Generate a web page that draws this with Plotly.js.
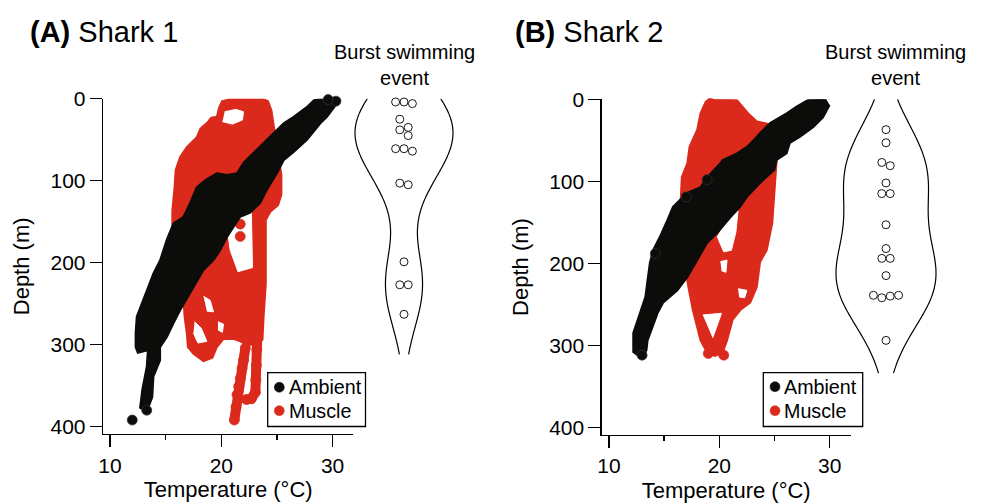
<!DOCTYPE html>
<html>
<head>
<meta charset="utf-8">
<script src="https://cdn.plot.ly/plotly-3.0.1.min.js"></script>
<style>html,body{margin:0;padding:0;background:#fff}#chart{width:981px;height:504px}</style>
</head>
<body>
<div id="chart"></div>
<script>
// ---------- Shark 1 (A) ----------
// Ambient temperature cloud outline (temperature °C, depth m)
const shark1AmbientT = [30.5,29.5,28.9,27.7,26.5,25.6,25.0,24.1,23.5,22.6,21.7,21.1,20.5,19.9,19.3,18.4,17.2,16.3,15.7,15.1,14.5,14.5,13.9,13.8,13.3,12.7,12.9,13.3,13.4,12.5,12.3,12.3,12.4,12.9,13.3,13.9,14.5,15.0,15.1,15.7,16.6,17.2,17.8,18.6,19.6,20.5,21.4,22.0,22.9,23.8,24.7,25.6,26.5,27.7,28.3,28.9,29.8,30.7];
const shark1AmbientD = [4,22,30,50,65,75,91,111,127,139,144,157,169,185,197,209,237,258,274,291,303,319,339,364,382,377,355,327,307,310,303,286,266,249,233,213,197,178,172,152,144,127,108,99,91,93,91,78,66,54,42,30,22,10,2,0,0,1];
const shark1AmbientDotT = [12.0,13.3,30.3,29.6];
const shark1AmbientDotD = [392,380,3,1];
// Muscle temperature cloud outline
const shark1MuscleT = [20.6,22.6,23.7,24.2,24.5,24.7,24.9,25.2,25.4,25.4,25.1,24.4,24.0,24.0,24.0,23.8,23.7,23.1,22.3,21.7,21.1,20.2,19.6,19.2,18.4,17.5,17.0,16.9,16.7,16.6,16.0,15.6,15.6,15.8,15.9,16.3,16.9,17.8,18.1,18.6,19.1,19.6,19.8,20.1];
const shark1MuscleD = [0,0,0,3,14,32,50,75,93,117,130,138,148,185,225,266,294,300,300,296,293,293,303,316,320,311,303,286,266,245,209,172,136,108,87,71,59,47,37,31,24,22,11,2];
// Gaps inside the muscle cloud
const shark1GapT = [20.3,21.3,22.0,21.9,21.0,20.1,null, 20.7,22.7,22.8,21.5,20.8,20.5,null, 17.6,18.2,18.7,17.9,17.5,null, 18.4,19.0,19.3,18.7,null, 19.7,20.2,20.1,19.7];
const shark1GapD = [16,13,16,26,31,28,null, 139,137,206,211,185,154,null, 272,280,296,298,286,null, 241,246,260,259,null, 272,275,285,282];
// Deep muscle excursions (two descents below the main cloud)
const shark1TailT = [23.24,23.19,23.15,23.10,23.06,22.70,22.25,null,22.16,22.0,21.86,21.71,21.56,21.41,21.32,21.17];
const shark1TailD = [288,306,325,343,358,366,367,null,304,319,329,341,351,361,376,392];
const shark1MuscleDotT = [21.7,21.7,19.3,18.6];
const shark1MuscleDotD = [153,168,28,38];
// Burst swimming events (depth m)
const shark1Burst = [4,4,6,25,35,38,45,61,61,64,103,105,199,227,227,263];

// ---------- Shark 2 (B) ----------
const shark2AmbientT = [30.0,29.4,28.5,27.3,26.4,26.1,25.2,25.0,24.0,23.1,22.5,21.9,21.0,19.8,18.9,18.0,17.1,16.2,14.9,14.4,13.9,13.5,13.4,13.0,12.2,12.2,12.8,13.3,13.5,13.7,14.0,14.6,15.3,15.8,16.7,17.1,18.3,18.9,20.1,20.3,21.6,22.5,23.1,23.7,24.6,25.5,26.1,27.0,28.0,28.9,29.7];
const shark2AmbientD = [7,22,34,46,53,66,74,86,98,111,119,131,144,163,175,196,217,233,248,261,278,294,306,316,308,285,261,241,220,200,184,168,147,131,119,114,107,95,78,74,66,58,50,41,29,22,17,9,1,0,0];
const shark2AmbientDotT = [18.9,17.0,14.2,13.0];
const shark2AmbientDotD = [98,119,188,312];
const shark2MuscleT = [19.2,21.6,22.6,23.4,24.4,25.1,25.2,25.0,24.8,24.3,23.7,23.4,22.8,21.9,21.2,20.7,20.3,19.6,18.9,18.3,17.6,17.2,16.8,16.5,16.5,16.6,17.1,17.3,18.0,18.3,18.8];
const shark2MuscleD = [0,1,17,27,30,50,74,111,151,184,198,229,248,257,269,294,309,313,309,294,257,229,196,159,123,95,78,58,37,17,2];
const shark2GapT = [21.0,21.7,21.5,21.1,20.4,19.8,null, 18.5,20.2,19.4,null, 21.7,22.5,22.3,21.8,null, 20.1,20.7,20.6,20.2];
const shark2GapD = [140,136,162,184,186,167,null, 263,261,291,null, 231,233,242,241,null, 198,196,211,209];
const shark2MuscleDotT = [19.2,20.4,19.0];
const shark2MuscleDotD = [5,312,310];
const shark2Burst = [37,53,77,81,102,115,115,153,182,194,194,215,239,242,240,239,294];

// Legend labels
const legendLabels = ['Ambient', 'Muscle'];

// ---------- styling ----------
const FONT = 'Liberation Sans, Arial, Helvetica, sans-serif';
const BLACK = '#0c0d0a';
const RED = '#db2a1c';
const W = 981, H = 504;

function poly(T, D, color, xa, ya, lw) {
  return {type:'scatter', mode:'lines', x:T, y:D, xaxis:xa, yaxis:ya, fill:'toself',
    fillcolor:color, line:{color:color, width:lw}, showlegend:false, hoverinfo:'skip'};
}
function dots(T, D, name, color, edge, xa, ya) {
  return {type:'scatter', mode:'markers', name:name, x:T, y:D, xaxis:xa, yaxis:ya, showlegend:false,
    marker:{color:color, size:10, line:{color:edge, width:0.7}}, cliponaxis:false, hoverinfo:'skip'};
}
function tailLine(T, D, xa, ya) {
  return {type:'scatter', mode:'lines', x:T, y:D, xaxis:xa, yaxis:ya,
    line:{color:RED, width:10}, showlegend:false, hoverinfo:'skip'};
}
// beeswarm offsets: points closer than one marker diameter are spread side by side
function swarm(depths, diamPx, pxPerM, pxPerUnit) {
  const thr = diamPx / pxPerM, xs = new Array(depths.length);
  let i = 0;
  while (i < depths.length) {
    let j = i;
    while (j + 1 < depths.length && depths[j + 1] - depths[i] < thr) j++;
    const n = j - i + 1;
    for (let k = 0; k < n; k++) xs[i + k] = (k - (n - 1) / 2) * diamPx / pxPerUnit;
    i = j + 1;
  }
  return xs;
}
// open-ended violin outline from a Gaussian kernel density of the burst depths
function violinOutline(depths, bw, lo, hi, half, xa, ya) {
  const n = 120, ys = [], ds = [];
  for (let i = 0; i <= n; i++) {
    const y = lo + (hi - lo) * i / n;
    let s = 0;
    for (const v of depths) { const z = (y - v) / bw; s += Math.exp(-0.5 * z * z); }
    ys.push(y); ds.push(s);
  }
  const mx = Math.max(...ds);
  const xl = ds.map(d => -d / mx * half), xr = ds.map(d => d / mx * half);
  return {type:'scatter', mode:'lines', x:xl.concat([null], xr), y:ys.concat([null], ys), xaxis:xa, yaxis:ya,
    line:{color:'black', width:1.2, shape:'spline'}, showlegend:false, hoverinfo:'skip', cliponaxis:false};
}
function burstPts(depths, xa, ya) {
  return {type:'scatter', mode:'markers', x:swarm(depths, 8.4, 0.82, 64), y:depths, xaxis:xa, yaxis:ya,
    marker:{symbol:'circle', size:8, color:'white', line:{color:'black', width:0.9}},
    showlegend:false, hoverinfo:'skip', cliponaxis:false};
}

const traces = [
  poly(shark1MuscleT, shark1MuscleD, RED, 'x', 'y', 2),
  poly(shark1GapT, shark1GapD, 'white', 'x', 'y', 1),
  tailLine(shark1TailT, shark1TailD, 'x', 'y'),
  dots(shark1TailT, shark1TailD, 'Muscle', RED, RED, 'x', 'y'),
  dots(shark1MuscleDotT, shark1MuscleDotD, 'Muscle', RED, RED, 'x', 'y'),
  poly(shark1AmbientT, shark1AmbientD, BLACK, 'x', 'y', 2),
  dots(shark1AmbientDotT, shark1AmbientDotD, 'Ambient', BLACK, '#333', 'x', 'y'),
  violinOutline(shark1Burst, 44, 0, 312, 49 / 64, 'x3', 'y'),
  burstPts(shark1Burst, 'x3', 'y'),

  poly(shark2MuscleT, shark2MuscleD, RED, 'x2', 'y2', 2),
  poly(shark2GapT, shark2GapD, 'white', 'x2', 'y2', 1),
  dots(shark2MuscleDotT, shark2MuscleDotD, 'Muscle', RED, RED, 'x2', 'y2'),
  poly(shark2AmbientT, shark2AmbientD, BLACK, 'x2', 'y2', 2),
  dots(shark2AmbientDotT, shark2AmbientDotD, 'Ambient', BLACK, '#333', 'x2', 'y2'),
  violinOutline(shark2Burst, 45, 0, 334, 50 / 64, 'x4', 'y2'),
  burstPts(shark2Burst, 'x4', 'y2')
];

function xax(d0, d1, r, anchor) {
  return {domain:[d0 / W, d1 / W], range:r, anchor:anchor, showline:true, linecolor:'black', linewidth:1.3,
    ticks:'outside', ticklen:12, tickwidth:1.3, tickcolor:'black', tickmode:'linear', tick0:0, dtick:10,
    minor:{ticks:'outside', ticklen:5, tickwidth:1.3, tickcolor:'black', tick0:0, dtick:5},
    showgrid:false, zeroline:false, tickfont:{family:FONT, size:21, color:'black'},
    title:{text:'Temperature (°C)', font:{family:FONT, size:22, color:'black'}, standoff:6}};
}
function yax(p0, p1, anchor) {
  return {domain:[1 - p1 / H, 1 - p0 / H], range:[409, 0], anchor:anchor, showline:true, linecolor:'black',
    linewidth:1.3, ticks:'outside', ticklen:12, tickwidth:1.3, tickcolor:'black', tickmode:'linear', tick0:0,
    dtick:100, showgrid:false, zeroline:false, tickfont:{family:FONT, size:21, color:'black'},
    title:{text:'Depth (m)', font:{family:FONT, size:22, color:'black'}, standoff:14}};
}
function hidden(d0, d1, anchor) {
  return {domain:[d0 / W, d1 / W], range:[-1, 1], anchor:anchor, visible:false, showgrid:false, zeroline:false, fixedrange:true};
}
// boxed legend: frame, marker swatches and labels (paper pixel placement)
function legendBox(x0, y0, x1, y1, dotX, rows, textX) {
  const px = v => v / W, py = v => 1 - v / H;
  const shapes = [{type:'rect', xref:'paper', yref:'paper', x0:px(x0), x1:px(x1), y0:py(y1), y1:py(y0),
    line:{color:'black', width:1.3}, fillcolor:'white', layer:'above'}];
  const colors = [BLACK, RED];
  const annos = [];
  rows.forEach((ry, i) => {
    shapes.push({type:'circle', xref:'paper', yref:'paper', x0:px(dotX - 5), x1:px(dotX + 5),
      y0:py(ry + 5), y1:py(ry - 5), fillcolor:colors[i], line:{color:colors[i], width:0.5}, layer:'above'});
    annos.push({xref:'paper', yref:'paper', x:px(textX), y:py(ry), xanchor:'left', yanchor:'middle',
      showarrow:false, text:legendLabels[i], font:{family:FONT, size:19.7, color:'black'}});
  });
  return {shapes, annos};
}
const legA = legendBox(267.7, 372.7, 365.5, 426.5, 279.3, [387.3, 410.7], 286.5);
const legB = legendBox(763.3, 372.7, 862.7, 426.5, 775, [386.7, 410.7], 782.2);

const layout = {
  width:W, height:H, margin:{l:0, r:0, t:0, b:0}, paper_bgcolor:'white', plot_bgcolor:'rgba(0,0,0,0)',
  hovermode:false, showlegend:false,
  xaxis:xax(103, 353.3, [9.37, 31.86], 'y'),
  yaxis:yax(98.7, 434, 'x'),
  xaxis2:xax(601.7, 850.7, [9.34, 31.91], 'y2'),
  yaxis2:yax(99.3, 434.7, 'x2'),
  xaxis3:hidden(340, 468, 'y'),
  xaxis4:hidden(822, 950, 'y2'),
  shapes:legA.shapes.concat(legB.shapes),
  annotations:[
    {xref:'paper', yref:'paper', x:28 / W, y:1 - 32 / H, xanchor:'left', yanchor:'middle', showarrow:false,
     text:'<b>(A)</b> Shark 1', font:{family:FONT, size:29, color:'black'}},
    {xref:'paper', yref:'paper', x:512.5 / W, y:1 - 32 / H, xanchor:'left', yanchor:'middle', showarrow:false,
     text:'<b>(B)</b> Shark 2', font:{family:FONT, size:29, color:'black'}},
    {xref:'paper', yref:'paper', x:404.7 / W, y:1 - 65 / H, xanchor:'center', yanchor:'middle', showarrow:false,
     text:'Burst swimming<br>event', font:{family:FONT, size:20, color:'black'}},
    {xref:'paper', yref:'paper', x:895.3 / W, y:1 - 65 / H, xanchor:'center', yanchor:'middle', showarrow:false,
     text:'Burst swimming<br>event', font:{family:FONT, size:20, color:'black'}}
  ].concat(legA.annos, legB.annos)
};

Plotly.newPlot('chart', traces, layout, {displayModeBar:false, staticPlot:true});
</script>
</body>
</html>
